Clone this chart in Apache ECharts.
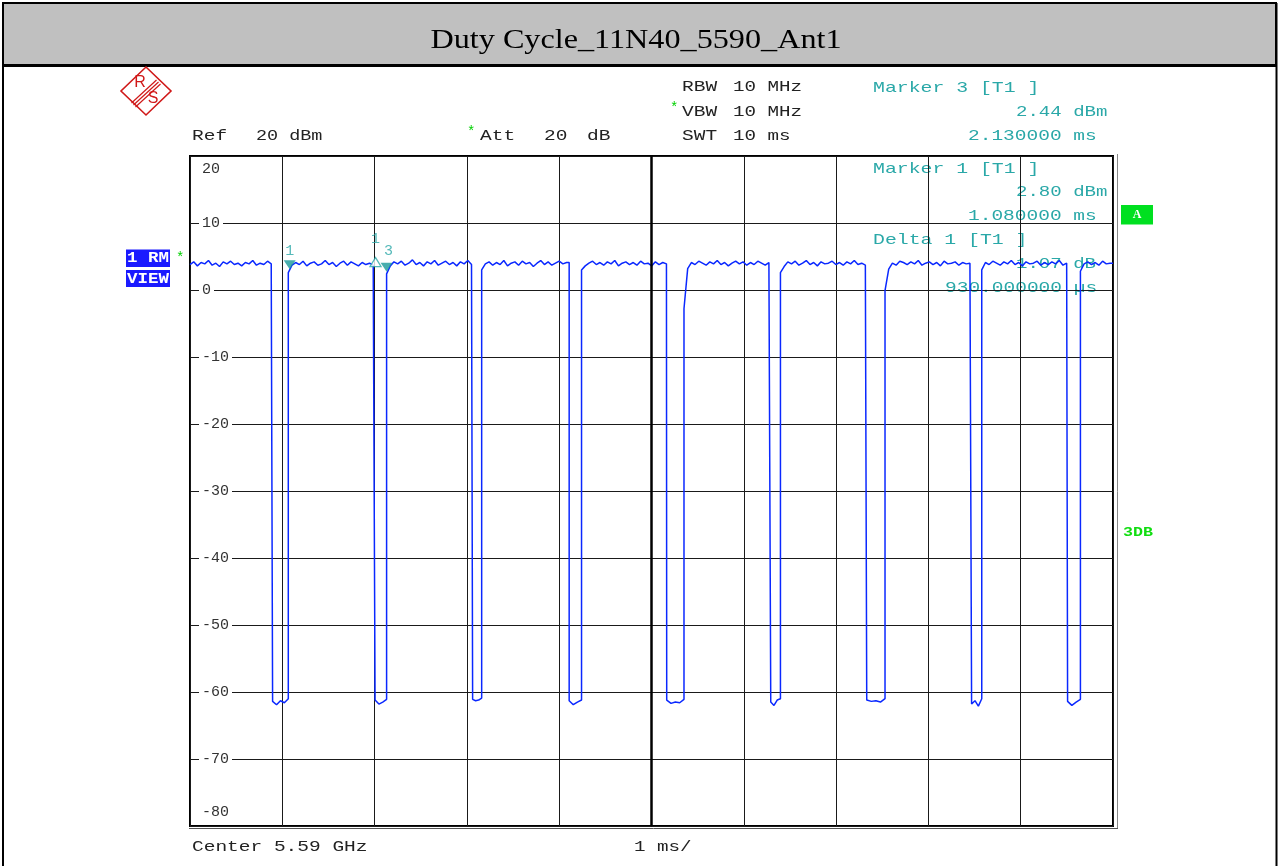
<!DOCTYPE html>
<html><head><meta charset="utf-8">
<script src="https://cdn.jsdelivr.net/npm/echarts@6/dist/echarts.min.js"></script>
<style>html,body{margin:0;padding:0;background:#fff}#c{width:1279px;height:866px}</style>
</head><body><div id="c"></div>
<script>
// ---- data (time in ms, level in dBm) ----
const riseMs = [0, 1.065, 2.130, 3.160, 4.242, 5.352, 6.397, 7.530, 8.578, 9.647];
const fallMs = [0.895, 2.005, 3.062, 4.108, 5.165, 6.292, 7.332, 8.468, 9.508, 10.0];
const SAMPLE_MS = 0.04;
const burstDbm = [
  [3.8,4.2,3.6,4.1,3.9,4.4,3.7,4.0,3.5,4.2,3.9,4.3,3.8,4.0,3.6,4.1,3.9,4.4,3.7,4.0,3.8,4.3,3.9],
  [2.6,3.7,4.1,3.8,4.3,3.6,4.0,4.2,3.7,3.9,4.4,3.8,4.1,3.5,4.0,4.3,3.7,4.2,3.9,3.6,4.1,3.8,4.0,3.7],
  [2.4,3.6,4.2,3.9,4.3,3.7,4.0,4.5,3.8,4.1,3.6,4.2,3.9,4.4,3.7,4.0,4.3,3.8,4.1,3.6,4.2,3.9,4.4,3.8],
  [3.0,3.9,4.2,3.7,4.1,3.8,4.4,3.6,4.0,4.2,3.7,4.3,3.9,4.1,3.5,4.0,4.4,3.8,4.2,3.7,4.0,4.3,3.9,4.1],
  [3.0,3.6,4.0,4.3,3.8,4.1,3.7,4.2,3.9,4.4,3.6,4.0,4.2,3.8,4.1,3.7,4.3,3.9,4.0,3.6,4.2,3.8,4.1,3.9],
  [-2.8,3.2,4.1,3.8,4.3,4.0,3.7,4.2,3.9,4.4,3.8,4.1,3.6,4.0,4.3,3.9,4.2,3.7,4.1,3.8,4.3,4.0,3.7,4.1],
  [2.6,3.5,4.2,3.9,4.3,3.7,4.0,4.4,3.8,4.1,3.6,4.2,3.9,4.0,4.3,3.8,4.1,3.7,4.2,3.9,4.4,3.8,4.0,3.7],
  [-0.1,3.1,4.0,3.7,4.3,4.1,3.8,4.2,3.9,4.4,3.7,4.0,4.2,3.8,4.1,3.6,4.3,3.9,4.0,4.2,3.7,4.1,3.9,4.0],
  [3.0,4.1,3.8,4.3,4.0,3.7,4.2,3.9,4.4,3.8,4.1,3.6,4.2,3.9,4.0,4.3,3.7,4.1,3.8,4.2,3.9,4.4,3.7,4.0],
  [2.8,3.9,4.2,3.8,4.1,3.7,4.3,3.9,4.0]
];
const gapDbm = [
  [-61.4,-61.9,-61.3,-61.6,-61.0],
  [-61.2,-61.8,-61.5,-61.1],
  [-61.1,-61.3,-61.2,-60.9],
  [-61.3,-61.9,-61.5,-61.2],
  [-61.2,-61.7,-61.5,-61.6,-61.1],
  [-61.5,-62.0,-61.2,-61.0],
  [-61.2,-61.4,-61.3,-61.5,-61.0],
  [-61.8,-61.3,-62.1,-61.0],
  [-61.4,-62.0,-61.5,-61.1]
];
const markerNames = ['1', '1', '3'];
const markerKinds = ['normal', 'delta', 'normal'];
const markerMs = [1.08, 2.01, 2.13];
const markerDbm = [2.80, 3.87, 2.44];
const yMin = -80, yMax = 20, yStep = 10;
const xMin = 0, xMax = 10, xStep = 1;

// ---- build trace ----
const trace = [];
for (let i = 0; i < riseMs.length; i++) {
  const lv = burstDbm[i];
  lv.forEach((v, j) => { const t = riseMs[i] + j * SAMPLE_MS; if (t < fallMs[i]) trace.push([t, v]); });
  trace.push([fallMs[i], lv[lv.length - 1]]);
  if (i < gapDbm.length) {
    const g = gapDbm[i], n = g.length;
    g.forEach((v, k) => trace.push([fallMs[i] + (riseMs[i + 1] - fallMs[i]) * k / (n - 1), v]));
  }
}

const MONO = '"Liberation Mono", "DejaVu Sans Mono", monospace';
const TEAL = '#2aa8a8';
const DARK = '#222';
function txt(x, y, s, fill, size, sx, weight) {
  return { type: 'text', x: x, y: y, scaleX: sx == null ? 1.3 : sx, silent: true,
    style: { text: s, fill: fill, font: (weight || 'normal') + ' ' + size + 'px ' + MONO, align: 'left', verticalAlign: 'middle' } };
}

const graphics = [
  // outer frame + title bar
  { type: 'rect', shape: { x: 3, y: 3, width: 1273, height: 62 }, style: { fill: '#c0c0c0', stroke: '#000', lineWidth: 2 } },
  { type: 'line', shape: { x1: 3, y1: 65.5, x2: 1277, y2: 65.5 }, style: { stroke: '#000', lineWidth: 3 } },
  { type: 'line', shape: { x1: 3, y1: 3, x2: 3, y2: 866 }, style: { stroke: '#000', lineWidth: 2 } },
  { type: 'line', shape: { x1: 1276.5, y1: 3, x2: 1276.5, y2: 866 }, style: { stroke: '#000', lineWidth: 2 } },
  { type: 'line', shape: { x1: 1117.5, y1: 154, x2: 1117.5, y2: 829 }, style: { stroke: '#888', lineWidth: 1 } },
  { type: 'line', shape: { x1: 189, y1: 828.5, x2: 1118, y2: 828.5 }, style: { stroke: '#555', lineWidth: 1 } },
  { type: 'text', x: 636, y: 41, scaleX: 1.15, silent: true,
    style: { text: 'Duty Cycle_11N40_5590_Ant1', font: '28px "Liberation Serif", serif', fill: '#000', align: 'center', verticalAlign: 'middle' } },
  // R&S logo
  { type: 'polygon', shape: { points: [[146, 67], [171, 91], [146, 115], [121, 91]] }, style: { fill: 'none', stroke: '#d01818', lineWidth: 1.6 } },
  { type: 'line', shape: { x1: 156.5, y1: 80, x2: 131.5, y2: 103 }, style: { stroke: '#d01818', lineWidth: 1.2 } },
  { type: 'line', shape: { x1: 158.5, y1: 82, x2: 133.5, y2: 105 }, style: { stroke: '#d01818', lineWidth: 1.2 } },
  { type: 'line', shape: { x1: 160.5, y1: 84, x2: 135.5, y2: 107 }, style: { stroke: '#d01818', lineWidth: 1.2 } },
  { type: 'text', x: 140, y: 83, silent: true, style: { text: 'R', font: '16px "Liberation Sans"', fill: '#d01818', align: 'center', verticalAlign: 'middle' } },
  { type: 'text', x: 153, y: 99, silent: true, style: { text: 'S', font: '16px "Liberation Sans"', fill: '#d01818', align: 'center', verticalAlign: 'middle' } },
  // header texts
  txt(192, 136, 'Ref', DARK, 15), txt(256, 136, '20 dBm', DARK, 15, 1.23),
  txt(467, 132, '*', '#00d000', 14, 1), txt(480, 136, 'Att', DARK, 15),
  txt(544, 136, '20', DARK, 15), txt(587, 136, 'dB', DARK, 15),
  txt(682, 87, 'RBW', DARK, 15), txt(733, 87, '10 MHz', DARK, 15, 1.28),
  txt(670, 108, '*', '#00d000', 14, 1), txt(682, 112, 'VBW', DARK, 15), txt(733, 112, '10 MHz', DARK, 15, 1.28),
  txt(682, 136, 'SWT', DARK, 15), txt(733, 136, '10 ms', DARK, 15, 1.28),
  txt(873, 88, 'Marker 3 [T1 ]', TEAL, 15, 1.32),
  txt(1016, 112, '2.44 dBm', TEAL, 15, 1.27),
  txt(968, 136, '2.130000 ms', TEAL, 15, 1.3),
  txt(873, 169, 'Marker 1 [T1 ]', TEAL, 15, 1.32),
  txt(1016, 192, '2.80 dBm', TEAL, 15, 1.27),
  txt(968, 216, '1.080000 ms', TEAL, 15, 1.3),
  txt(873, 240, 'Delta 1 [T1 ]', TEAL, 15, 1.32),
  txt(1016, 264, '1.07 dB', TEAL, 15, 1.27),
  txt(945, 288, '930.000000 µs', TEAL, 15, 1.3),
  // footer
  txt(192, 847, 'Center 5.59 GHz', DARK, 15, 1.3),
  txt(634, 847, '1 ms/', DARK, 15, 1.28),
  // left boxes
  { type: 'rect', shape: { x: 126, y: 249.5, width: 44, height: 17.5 }, style: { fill: '#1a1aff' } },
  { type: 'rect', shape: { x: 126, y: 270, width: 44, height: 17 }, style: { fill: '#1a1aff' } },
  txt(127, 258.5, '1 RM', '#fff', 14, 1.25, 'bold'),
  txt(127, 279, 'VIEW', '#fff', 14, 1.25, 'bold'),
  txt(176, 258, '*', '#00d000', 14, 1),
  // right side
  { type: 'rect', shape: { x: 1121, y: 205, width: 32, height: 19.5 }, style: { fill: '#00e020' } },
  { type: 'text', x: 1137, y: 214.5, silent: true, style: { text: 'A', font: 'bold 12px "Liberation Serif"', fill: '#fff', align: 'center', verticalAlign: 'middle' } },
  txt(1123, 533, '3DB', '#10dd10', 13, 1.28, 'bold')
];

const chart = echarts.init(document.getElementById('c'), null, { renderer: 'canvas' });
chart.setOption({
  animation: false,
  backgroundColor: '#fff',
  grid: { left: 190, top: 156, width: 923, height: 670, show: true, borderColor: '#000', borderWidth: 2, backgroundColor: 'transparent' },
  xAxis: { type: 'value', min: xMin, max: xMax, interval: xStep,
    axisLine: { show: false }, axisTick: { show: false }, axisLabel: { show: false },
    splitLine: { show: true, lineStyle: { color: '#1a1a1a', width: 1 } } },
  yAxis: { type: 'value', min: yMin, max: yMax, interval: yStep,
    axisLine: { show: false }, axisTick: { show: false },
    splitLine: { show: true, lineStyle: { color: '#1a1a1a', width: 1 } },
    axisLabel: { inside: true, margin: 9, showMinLabel: true, showMaxLabel: true,
      fontFamily: MONO, fontSize: 15, color: '#333',
      formatter: v => v === yMax ? '{t|' + v + '}' : (v === yMin ? '{b|' + v + '}' : '{n|' + v + '}'),
      rich: {
        n: { backgroundColor: '#fff', padding: [1, 3, 1, 3], fontFamily: MONO, fontSize: 15, color: '#333' },
        t: { padding: [27, 3, 0, 3], fontFamily: MONO, fontSize: 15, color: '#333' },
        b: { padding: [0, 3, 27, 3], fontFamily: MONO, fontSize: 15, color: '#333' }
      } } },
  graphic: graphics,
  series: [
    { type: 'line', data: trace, showSymbol: false, symbol: 'none', z: 3,
      lineStyle: { color: '#0a28ff', width: 1.5 },
      markLine: { silent: true, symbol: 'none', label: { show: false }, animation: false,
        lineStyle: { color: '#000', width: 2.5, type: 'solid' }, data: [{ xAxis: (xMin + xMax) / 2 }] } },
    { type: 'scatter', z: 4,
      data: markerMs.map((t, i) => {
        const delta = markerKinds[i] === 'delta';
        return {
          name: markerNames[i], value: [t, markerDbm[i]],
          symbol: delta ? 'triangle' : 'path://M0,0L12,0L6,9Z',
          symbolSize: delta ? [11, 9] : [12, 9],
          symbolOffset: delta ? [0, -2] : [0, -6.5],
          itemStyle: delta ? { color: '#fff', borderColor: TEAL, borderWidth: 1.3 } : { color: '#1a9a9a' },
          label: { show: true, position: 'top', formatter: markerNames[i], fontFamily: MONO, fontSize: 15, color: TEAL,
            distance: delta ? 10 : (i === 2 ? 4 : 2), offset: i === 2 ? [2, 0] : [0, 0] }
        };
      }) }
  ]
});
</script></body></html>
